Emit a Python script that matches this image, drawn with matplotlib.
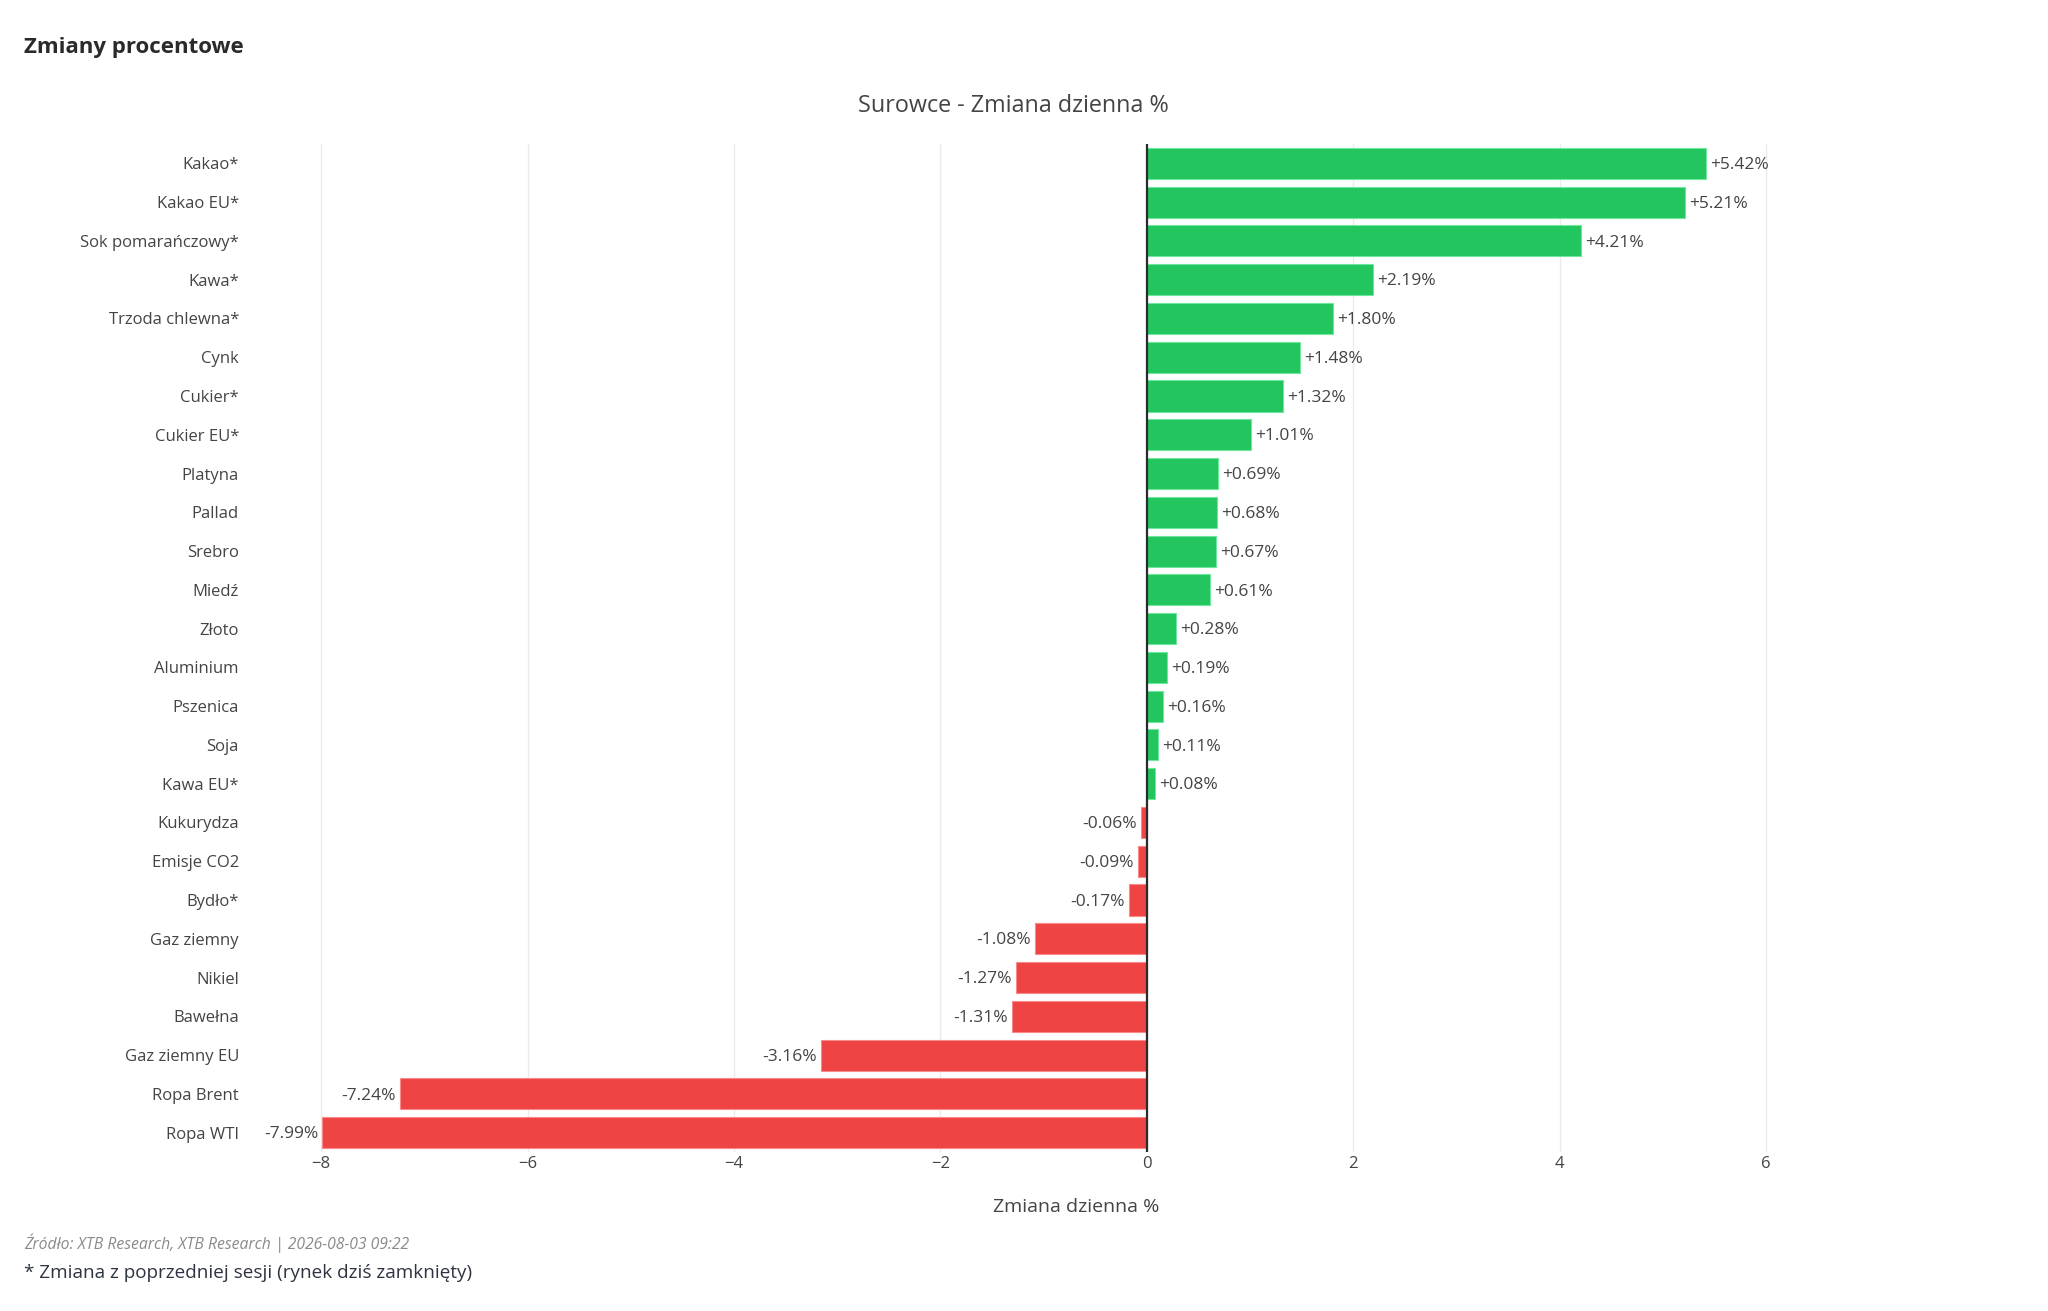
import matplotlib
matplotlib.use("Agg")
import matplotlib.pyplot as plt

plt.rcParams['font.family'] = ['Open Sans', 'DejaVu Sans']

# dane (od góry do dołu)
names = ["Kakao*", "Kakao EU*", "Sok pomarańczowy*", "Kawa*", "Trzoda chlewna*",
         "Cynk", "Cukier*", "Cukier EU*", "Platyna", "Pallad", "Srebro", "Miedź",
         "Złoto", "Aluminium", "Pszenica", "Soja", "Kawa EU*", "Kukurydza",
         "Emisje CO2", "Bydło*", "Gaz ziemny", "Nikiel", "Bawełna",
         "Gaz ziemny EU", "Ropa Brent", "Ropa WTI"]
changes = [5.42, 5.21, 4.21, 2.19, 1.80, 1.48, 1.32, 1.01, 0.69, 0.68, 0.67, 0.61,
           0.28, 0.19, 0.16, 0.11, 0.08, -0.06, -0.09, -0.17, -1.08, -1.27, -1.31,
           -3.16, -7.24, -7.99]
xticks = [-8, -6, -4, -2, 0, 2, 4, 6]

green = "#22c55e"
red = "#ef4444"
W, H = 2048, 1311

fig = plt.figure(figsize=(W / 100, H / 100), dpi=100)
ax = fig.add_axes([250 / W, 1 - 1152 / H, (1904 - 250) / W, (1152 - 144) / H])

ypos = list(range(len(names)))
colors = [green if v >= 0 else red for v in changes]
edges = ["#6ee7a0" if v >= 0 else "#f98a8a" for v in changes]
ax.barh(ypos, changes, height=0.8, color=colors, edgecolor=edges, linewidth=0.8, zorder=2)

for y, v in zip(ypos, changes):
    if v >= 0:
        ax.annotate("+%.2f%%" % v, (v, y), xytext=(3, -1.2), textcoords="offset points",
                    ha="left", va="center", fontsize=12.5, color="#444444")
    else:
        ax.annotate("%.2f%%" % v, (v, y), xytext=(-3, -1.2), textcoords="offset points",
                    ha="right", va="center", fontsize=12.5, color="#444444")

ax.axvline(0, color="#2b2b2b", lw=1.6, zorder=3)
ax.set_xlim(-8.69, 7.335)
ax.set_ylim(len(names) - 0.5, -0.5)
ax.set_yticks(ypos)
ax.set_yticklabels(names, fontsize=12, color="#444444")
ax.set_xticks(xticks)
ax.set_xticklabels([("\u2212%d" % -t) if t < 0 else str(t) for t in xticks],
                   fontsize=12, color="#444444")
ax.tick_params(length=0, axis="y", pad=8)
ax.tick_params(length=0, axis="x", pad=3)
ax.grid(axis="x", color="#ebebeb", lw=1, zorder=0)
for s in ax.spines.values():
    s.set_visible(False)

fig.text(24 / W, 1 - 47 / H, "Zmiany procentowe", fontsize=16, fontweight="bold",
         color="#2a2a2a", ha="left", va="center")
fig.text(1013 / W, 1 - 106 / H, "Surowce - Zmiana dzienna %", fontsize=16.8,
         color="#444444", ha="center", va="center")
fig.text(1076 / W, 1 - 1207 / H, "Zmiana dzienna %", fontsize=14,
         color="#444444", ha="center", va="center")
fig.text(24 / W, 1 - 1243 / H, "Źródło: XTB Research, XTB Research | 2026-08-03 09:22",
         fontsize=11.3, style="italic", color="#8a8a8a", ha="left", va="center")
fig.text(24 / W, 1 - 1273 / H, "* Zmiana z poprzedniej sesji (rynek dziś zamknięty)",
         fontsize=13.6, color="#2d3340", ha="left", va="center")

fig.savefig("out.png", dpi=100, facecolor="white")
